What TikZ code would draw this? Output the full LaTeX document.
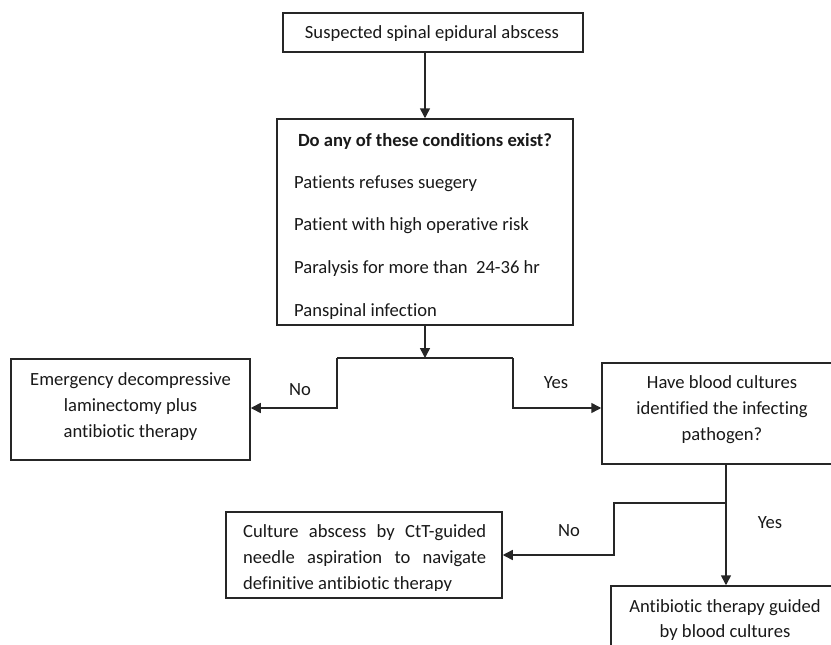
\documentclass[tikz,border=0pt]{standalone}
\usepackage{fontspec}
\setmainfont{Carlito}[RawFeature={-liga;-clig}]
\usetikzlibrary{arrows.meta}
\begin{document}
\begin{tikzpicture}[x=1pt,y=-1pt,
  box/.style={draw=black!85, line width=1.5pt, rectangle, inner sep=0pt},
  conn/.style={draw=black!85, line width=1.5pt},
  arr/.style={conn, -{Triangle[length=10pt,width=10pt]}},
  txt/.style={anchor=base, inner sep=0pt, font=\fontsize{18.6}{26}\selectfont, text=black!90},
  ltxt/.style={txt, anchor=base west},
]
\useasboundingbox (0,0) rectangle (831,645);
\clip (0,0) rectangle (831,645);
\fill[white] (0,0) rectangle (831,645);

% boxes
\node[box, minimum width=300pt, minimum height=39pt] (b1) at (433,32.5) {};
\node[box, minimum width=296pt, minimum height=206pt] (b2) at (425,222) {};
\node[box, minimum width=239pt, minimum height=101pt] (b3) at (130.5,409.5) {};
\node[box, minimum width=244pt, minimum height=101pt] (b4) at (724,413.5) {};
\node[box, minimum width=276pt, minimum height=86pt] (b5) at (364,555) {};
\node[box, minimum width=230pt, minimum height=104pt] (b6) at (726,638) {};

% texts
\node[txt] (t1) at (432,38) {Suspected spinal epidural abscess};
\node[txt] (t2a) at (425,146) {\bfseries Do any of these conditions exist?};
\node[ltxt] (t2b) at (294,188) {Patients refuses suegery};
\node[ltxt] (t2c) at (294,230.5) {Patient with high operative risk};
\node[ltxt] (t2d) at (294,273) {Paralysis for more than\ \ 24-36 hr};
\node[ltxt] (t2e) at (294,316) {Panspinal infection};

\node[txt] (t3a) at (130.5,385) {Emergency decompressive};
\node[txt] (t3b) at (130.5,411) {laminectomy plus};
\node[txt] (t3c) at (130.5,437) {antibiotic therapy};

\node[txt] (t4a) at (722,388) {Have blood cultures};
\node[txt] (t4b) at (722,414) {identified the infecting};
\node[txt] (t4c) at (722,440) {pathogen?};

\node[ltxt] (t5a) at (243,537) {\makebox[243pt][s]{Culture abscess by CtT-guided}};
\node[ltxt] (t5b) at (243,563) {\makebox[243pt][s]{needle aspiration to navigate}};
\begin{scope}
\clip (226,512) rectangle (502,590.5);
\node[ltxt] (t5c) at (243,589) {definitive antibiotic therapy};
\end{scope}

\node[txt] (t6a) at (725,612) {Antibiotic therapy guided};
\node[txt] (t6b) at (725,637) {by blood cultures};

% labels
\node[txt] (lno1) at (300,395) {No};
\node[txt] (lyes1) at (556,388) {Yes};
\node[txt] (lno2) at (569,536) {No};
\node[txt] (lyes2) at (770,528) {Yes};

% connectors
\draw[arr] (b1.south -| b2.north) -- (b2.north);
\coordinate (split) at (425,358);
\coordinate (splitL) at (337,358);
\coordinate (splitR) at (513,358);
\coordinate (bendL) at (337,408);
\coordinate (bendR) at (513,408);
\draw[arr] (b2.south) -- (split);
\draw[conn] (splitL) -- (splitR);
\draw[arr] (splitL) -- (bendL) -- (bendL -| b3.east);
\draw[arr] (splitR) -- (bendR) -- (bendR -| b4.west);

\coordinate (splitB) at (726,503);
\coordinate (bendB1) at (614,503);
\coordinate (bendB2) at (614,555);
\draw[conn] (b6.north |- b4.south) -- (splitB);
\draw[arr] (splitB) -- (b6.north);
\draw[arr] (splitB) -- (bendB1) -- (bendB2) -- (bendB2 -| b5.east);
\end{tikzpicture}
\end{document}
